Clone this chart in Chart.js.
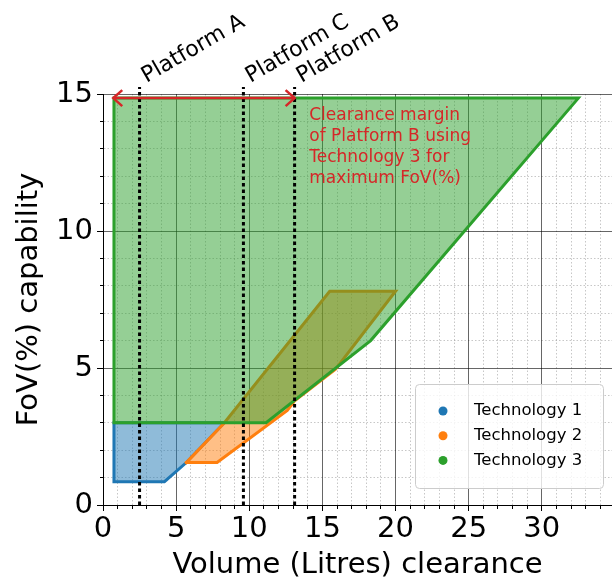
<!DOCTYPE html>
<html><head><meta charset="utf-8">
<script src="https://cdn.jsdelivr.net/npm/chart.js@4/dist/chart.umd.min.js"></script>
<style>html,body{margin:0;padding:0;background:#fff}</style>
</head><body>
<canvas id="c" width="612" height="585"></canvas>
<script>
// ---- data ----
const seriesNames = ['Technology 1', 'Technology 2', 'Technology 3'];
const tech1X = [0.75, 4.2, 5.7, 8.3, 0.75, 0.75];
const tech1Y = [0.85, 0.85, 1.55, 3.0, 3.0, 0.85];
const tech2X = [5.7, 7.8, 12.6, 13.1, 15.9, 20.0, 15.5, 8.3, 5.7];
const tech2Y = [1.55, 1.55, 3.45, 3.8, 4.96, 7.8, 7.8, 3.0, 1.55];
const tech3X = [0.75, 0.75, 32.5, 18.3, 11.15, 0.75];
const tech3Y = [3.0, 14.85, 14.85, 6.0, 3.0, 3.0];
const platformNames = ['Platform A', 'Platform C', 'Platform B'];
const platformX = [2.5, 9.6, 13.1];
const arrowX = [0.7, 13.1];
const arrowY = 14.85;
const noteLines = ['Clearance margin', 'of Platform B using', 'Technology 3 for', 'maximum FoV(%)'];
const noteX = 14.1;
const noteY = 14.2;
const xTickLabels = [0, 5, 10, 15, 20, 25, 30];
const yTickLabels = [0, 5, 10, 15];

// ---- styles ----
const colors = ['#1f77b4', '#ff7f0e', '#2ca02c'];
const fills = ['rgba(31,119,180,0.5)', 'rgba(255,127,14,0.5)', 'rgba(44,160,44,0.5)'];
const RED = '#d62728';
Chart.defaults.font.family = '"DejaVu Sans", sans-serif';

const toPts = (xs, ys) => xs.map((v, i) => ({x: v, y: ys[i]}));
const polys = [toPts(tech1X, tech1Y), toPts(tech2X, tech2Y), toPts(tech3X, tech3Y)];

const datasets = polys.map((pts, i) => ({
  label: seriesNames[i],
  data: pts,
  showLine: true,
  fill: 'shape',
  backgroundColor: fills[i],
  borderColor: colors[i],
  borderWidth: 3,
  borderJoinStyle: 'miter',
  borderCapStyle: 'square',
  pointRadius: 0,
  tension: 0,
  order: 2 - i
}));

const isMajor = ctx => ctx.tick && Math.abs(ctx.tick.value % 5) < 1e-9;

function gridOpts() {
  return {
    color: ctx => isMajor(ctx) ? 'rgba(0,0,0,0.6)' : 'rgba(0,0,0,0.22)',
    lineWidth: 1,
    tickLength: 6,
    tickColor: '#000',
    tickWidth: 1
  };
}

const overlay = {
  id: 'overlay',
  afterDatasetsDraw(chart) {
    const {ctx, scales: {x, y}, chartArea} = chart;
    ctx.save();
    // platform dotted lines
    ctx.strokeStyle = '#000';
    ctx.lineWidth = 3;
    ctx.setLineDash([3.5, 3]);
    platformX.forEach(v => {
      const px = x.getPixelForValue(v);
      ctx.beginPath();
      ctx.moveTo(px, y.getPixelForValue(0));
      ctx.lineTo(px, chartArea.top - 7);
      ctx.stroke();
    });
    ctx.setLineDash([]);
    // rotated platform labels
    ctx.fillStyle = '#000';
    ctx.font = '22px "DejaVu Sans"';
    ctx.textAlign = 'left';
    ctx.textBaseline = 'alphabetic';
    platformX.forEach((v, i) => {
      const px = x.getPixelForValue(v);
      ctx.save();
      ctx.translate(px + 7, chartArea.top - 11);
      ctx.rotate(-Math.PI / 6);
      ctx.fillText(platformNames[i], 0, 0);
      ctx.restore();
    });
    // red double arrow
    const ax1 = x.getPixelForValue(arrowX[0]);
    const ax2 = x.getPixelForValue(arrowX[1]);
    const ay = y.getPixelForValue(arrowY);
    ctx.strokeStyle = RED;
    ctx.lineWidth = 2.5;
    ctx.lineJoin = 'miter';
    ctx.beginPath();
    ctx.moveTo(ax1, ay); ctx.lineTo(ax2, ay);
    ctx.stroke();
    ctx.beginPath();
    ctx.moveTo(ax1 + 9, ay - 8); ctx.lineTo(ax1, ay); ctx.lineTo(ax1 + 9, ay + 8);
    ctx.moveTo(ax2 - 9, ay - 8); ctx.lineTo(ax2, ay); ctx.lineTo(ax2 - 9, ay + 8);
    ctx.stroke();
    // note text
    ctx.fillStyle = RED;
    ctx.font = '17px "DejaVu Sans"';
    ctx.textBaseline = 'middle';
    const nx = x.getPixelForValue(noteX);
    const ny = y.getPixelForValue(noteY);
    noteLines.forEach((t, i) => ctx.fillText(t, nx, ny + i * 21));
    // legend
    const bx = 415, by = 384, bw = 188, bh = 104, r = 4;
    ctx.fillStyle = 'rgba(255,255,255,0.8)';
    ctx.strokeStyle = '#cccccc';
    ctx.lineWidth = 1;
    ctx.beginPath();
    ctx.roundRect(bx + 0.5, by + 0.5, bw, bh, r);
    ctx.fill();
    ctx.stroke();
    ctx.font = '16.5px "DejaVu Sans"';
    ctx.textBaseline = 'middle';
    seriesNames.forEach((n, i) => {
      const ry = by + 27 + i * 24.7;
      ctx.fillStyle = colors[i];
      ctx.beginPath();
      ctx.arc(bx + 28, ry, 4.5, 0, Math.PI * 2);
      ctx.fill();
      ctx.fillStyle = '#000';
      ctx.fillText(n, bx + 59, ry);
    });
    ctx.restore();
  }
};

new Chart(document.getElementById('c'), {
  type: 'scatter',
  data: {datasets},
  options: {
    responsive: false,
    animation: false,
    devicePixelRatio: 1,
    layout: {padding: {top: 94, right: 0, left: 0, bottom: 0}},
    plugins: {legend: {display: false}, tooltip: {enabled: false}},
    scales: {
      x: {
        type: 'linear', min: 0, max: 34.8,
        ticks: {
          stepSize: 1, includeBounds: false, autoSkip: false, maxRotation: 0, minRotation: 0,
          font: {size: 29}, color: '#000', padding: 1,
          callback: v => xTickLabels.includes(v) ? String(v) : ''
        },
        grid: Object.assign(gridOpts(), {
          tickBorderDash: ctx => isMajor(ctx) ? [] : [3, 20]
        }),
        border: {color: '#000', width: 1, dash: ctx => (ctx.tick && !isMajor(ctx)) ? [1.5, 2] : []},
        title: {display: true, text: 'Volume (Litres) clearance', font: {size: 29}, color: '#000', padding: {top: 0, bottom: 2}},
        afterFit: s => { s.height = 80; }
      },
      y: {
        type: 'linear', min: 0, max: 15,
        ticks: {
          stepSize: 1, includeBounds: false, autoSkip: false,
          font: {size: 29}, color: '#000', padding: 4,
          callback: v => yTickLabels.includes(v) ? String(v) : ''
        },
        grid: Object.assign(gridOpts(), {
          tickBorderDash: ctx => isMajor(ctx) ? [] : [0, 3, 3]
        }),
        border: {color: '#000', width: 1, dash: ctx => (ctx.tick && !isMajor(ctx)) ? [1.5, 2] : []},
        title: {display: true, text: 'FoV(%) capability', font: {size: 29}, color: '#000', padding: {top: 12, bottom: 0}},
        afterFit: s => { s.width = 103; }
      }
    }
  },
  plugins: [overlay]
});
</script>
</body></html>
